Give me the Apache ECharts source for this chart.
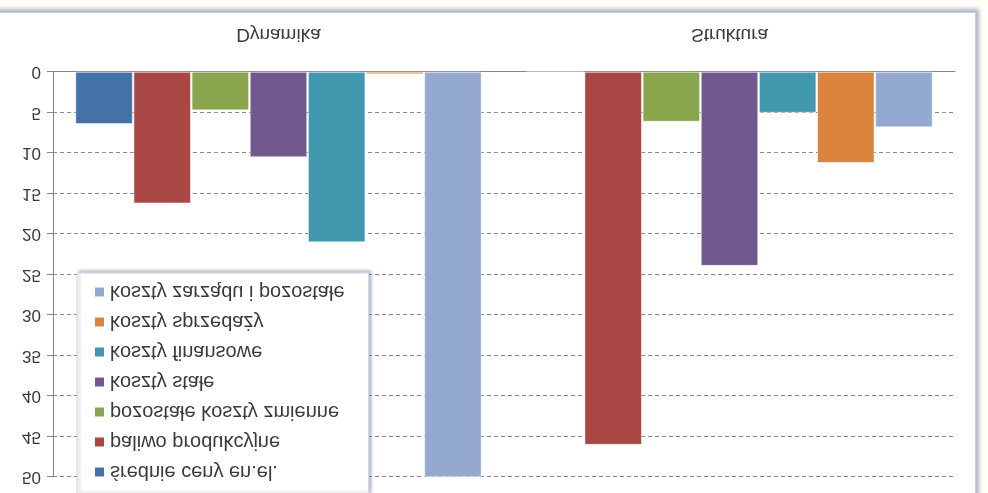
<!DOCTYPE html>
<html>
<head>
<meta charset="utf-8">
<script src="https://cdn.jsdelivr.net/npm/echarts@6/dist/echarts.min.js"></script>
<style>
  html, body { margin: 0; padding: 0; background: #fffef8; }
  #wrap { position: relative; width: 988px; height: 493px; overflow: hidden; transform: scaleY(-1); }
  #frame { position: absolute; left: -10px; top: -10px; width: 984px; height: 489px; background: #fff;
           border: 1px solid #c9cddb; box-shadow: 3px 3px 4px rgba(125,135,175,0.65); }
  #chart { position: absolute; left: 0; top: 0; width: 988px; height: 493px; }
</style>
</head>
<body>
<div id="wrap">
  <div id="frame"></div>
  <div id="chart"></div>
</div>
<script>
// kategorie i wartości
let categories = ['Dynamika', 'Struktura'];
let seriesNames = ['średnie ceny en.el.', 'paliwo produkcyjne', 'pozostałe koszty zmienne',
  'koszty stałe', 'koszty finansowe', 'koszty sprzedaży', 'koszty zarządu i pozostałe'];
let sredniaCena = [6.4, 0];
let paliwo = [16.2, 46.0];
let kosztyZmienne = [4.7, 6.1];
let kosztyStale = [10.5, 23.9];
let kosztyFinansowe = [21.0, 5.0];
let kosztySprzedazy = [0.25, 11.2];
let kosztyZarzadu = [50, 6.8];
let colors = ['#4471a8', '#aa4643', '#89a54e', '#71588f', '#4198af', '#db843d', '#93a9cf'];

let values = [sredniaCena, paliwo, kosztyZmienne, kosztyStale, kosztyFinansowe, kosztySprzedazy, kosztyZarzadu];
let font = 'Liberation Sans';

let myChart = echarts.init(document.getElementById('chart'), null, { renderer: 'canvas' });
let option = {
  animation: false,
  color: colors,
  textStyle: { fontFamily: font },
  grid: { left: 53, right: 33, top: 16, bottom: 72 },
  legend: {
    orient: 'vertical',
    left: 77,
    top: -2,
    padding: [13, 24, 9, 16],
    itemWidth: 11,
    itemHeight: 11,
    itemGap: 10,
    icon: 'rect',
    backgroundColor: '#fff',
    borderColor: '#d6d9e4',
    borderWidth: 1,
    shadowColor: 'rgba(120,130,170,0.5)',
    shadowBlur: 3,
    shadowOffsetX: 2,
    shadowOffsetY: 2,
    textStyle: { fontFamily: font, fontSize: 20, color: '#3a3a3a', lineHeight: 20 },
    data: seriesNames
  },
  xAxis: {
    type: 'category',
    data: categories,
    axisLine: { lineStyle: { color: '#868686' } },
    axisTick: { length: 8, lineStyle: { color: '#868686' } },
    axisLabel: { fontFamily: font, fontSize: 19, color: '#3a3a3a', margin: 28 }
  },
  yAxis: {
    type: 'value',
    min: 0,
    max: 50,
    interval: 5,
    axisLine: { show: true, lineStyle: { color: '#868686' } },
    axisTick: { show: true, length: 6, lineStyle: { color: '#868686' } },
    axisLabel: { fontFamily: font, fontSize: 17, color: '#3a3a3a', margin: 12 },
    splitLine: { lineStyle: { color: '#888', type: [4, 3], width: 1 } }
  },
  series: seriesNames.map(function (name, i) {
    return {
      name: name,
      type: 'bar',
      barGap: '2%',
      barCategoryGap: '10%',
      data: values[i],
      itemStyle: { borderColor: '#fff', borderWidth: 0.5 }
    };
  })
};
myChart.setOption(option);
</script>
</body>
</html>
